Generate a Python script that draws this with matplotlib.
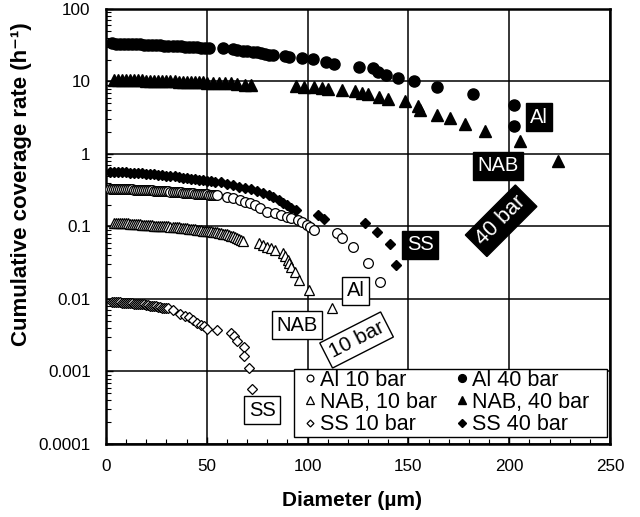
import matplotlib.pyplot as plt
from matplotlib.patches import Rectangle
from matplotlib.ticker import MultipleLocator, LogLocator, FixedLocator, FixedFormatter, NullFormatter

plt.rcParams['font.family'] = ['Liberation Sans', 'DejaVu Sans']

# Al, 10 bar (open circles)
al10_x = [2, 3, 4, 5, 6, 7, 8, 9, 10, 11, 12, 13, 14, 15, 16, 17, 18, 19, 20, 21, 22, 23, 24, 25, 26, 27,
          28, 29, 30, 31, 32, 33, 34, 35, 36, 37, 38, 39, 40, 41, 42, 43, 44, 45, 46, 47, 48, 49, 50, 51,
          52, 53, 54, 55,
          60, 63, 66.5, 69, 71.5, 74, 76.5, 80, 84, 87, 90, 92, 95, 97, 99.5, 101, 103,
          114.5, 117, 122.5, 130, 136]
al10_y = [0.332, 0.331, 0.331, 0.330, 0.330, 0.329, 0.328, 0.328, 0.327, 0.326, 0.325, 0.324, 0.323, 0.322,
          0.321, 0.320, 0.319, 0.318, 0.317, 0.316, 0.315, 0.314, 0.313, 0.312, 0.311, 0.310, 0.309, 0.307,
          0.306, 0.305, 0.303, 0.302, 0.300, 0.299, 0.297, 0.296, 0.294, 0.293, 0.291, 0.290, 0.288, 0.287,
          0.285, 0.284, 0.282, 0.281, 0.279, 0.278, 0.277, 0.276, 0.275, 0.274, 0.273, 0.272,
          0.258, 0.245, 0.232, 0.220, 0.209, 0.195, 0.178, 0.160, 0.152, 0.144, 0.137, 0.130, 0.122, 0.116,
          0.106, 0.099, 0.0895, 0.0805, 0.0687, 0.0526, 0.0317, 0.0173]

# Al, 40 bar (filled circles)
al40_x = [3, 5, 7, 9, 11, 13, 15, 17, 19, 21, 23, 25, 27, 29, 31, 33, 35, 37, 39, 41, 43, 45, 47, 49, 51,
          58, 63, 65, 68, 70, 73, 75, 77, 79, 81, 83, 89, 91, 97, 102.5, 109, 113, 125.5, 132.5, 135, 139,
          145, 153, 164, 182, 202.5, 202.5]
al40_y = [33.5, 33.4, 33.3, 33.2, 33.0, 32.9, 32.7, 32.5, 32.3, 32.1, 31.9, 31.7, 31.5, 31.3, 31.0, 30.8,
          30.6, 30.4, 30.2, 30.0, 29.8, 29.6, 29.4, 29.2, 29.0,
          28.7, 27.8, 27.2, 26.6, 26.3, 25.8, 25.3, 24.8, 24.3, 23.5, 23.0, 22.3, 21.5, 20.9, 20.2, 18.7,
          17.3, 16.0, 15.2, 13.6, 12.3, 11.1, 10.0, 8.3, 6.7, 4.7, 2.4]

# NAB, 10 bar (open triangles)
nab10_x = [4, 5, 6, 7, 8, 9, 10, 11, 12, 13, 14, 15, 16, 17, 18, 19, 20, 21, 22, 23, 24, 25, 26, 27, 28,
           29, 30, 31, 32, 33, 34, 35, 36, 37, 38, 39, 40, 41, 42, 43, 44, 45, 46, 47, 48, 49, 50,
           51, 52, 53, 54, 55, 56, 57, 58, 59, 60, 61, 62, 63, 64, 65, 66, 67, 68,
           76, 78, 80, 82, 84, 88, 89, 90.5, 91, 92, 94, 95.5, 100.5, 112]
nab10_y = [0.112, 0.112, 0.112, 0.111, 0.111, 0.111, 0.110, 0.110, 0.109, 0.109, 0.108, 0.108, 0.107,
           0.107, 0.106, 0.106, 0.105, 0.105, 0.104, 0.104, 0.103, 0.103, 0.102, 0.102, 0.101, 0.101,
           0.100, 0.100, 0.099, 0.099, 0.098, 0.097, 0.097, 0.096, 0.095, 0.095, 0.094, 0.093, 0.093,
           0.092, 0.091, 0.090, 0.090, 0.089, 0.088, 0.088, 0.087,
           0.086, 0.086, 0.085, 0.084, 0.083, 0.082, 0.081, 0.080, 0.079, 0.078, 0.077, 0.075, 0.073,
           0.071, 0.069, 0.067, 0.065, 0.063,
           0.0586, 0.056, 0.0526, 0.050, 0.0474, 0.0426, 0.039, 0.0345, 0.031, 0.0279, 0.0238, 0.0183,
           0.0133, 0.00745]

# NAB, 40 bar (filled triangles)
nab40_x = [4, 6, 8, 10, 12, 14, 16, 18, 20, 22, 24, 26, 28, 30, 32, 34, 36, 38, 40, 42, 44, 46, 48, 50,
           53, 56, 59, 62, 65, 69, 72, 94.5, 98, 103, 107, 110, 117, 123.5, 127, 130, 135.5, 140, 148.5,
           155, 156, 164, 170.5, 178, 188, 205.5, 224]
nab40_y = [10.6, 10.6, 10.55, 10.5, 10.5, 10.45, 10.4, 10.35, 10.3, 10.3, 10.25, 10.2, 10.15, 10.1, 10.05,
           10.0, 9.95, 9.9, 9.85, 9.8, 9.75, 9.7, 9.7, 9.65,
           9.6, 9.5, 9.5, 9.4, 9.3, 9.0, 9.0, 8.8, 8.5, 8.4, 8.05, 8.0, 7.6, 7.5, 7.0, 6.7, 6.05, 5.7, 5.3,
           4.6, 4.0, 3.45, 3.1, 2.6, 2.1, 1.52, 0.81]

# SS, 10 bar (open diamonds)
ss10_x = [3, 4, 5, 6, 7, 8, 9, 10, 11, 12, 13, 14, 15, 16, 17, 18, 19, 20, 21, 22, 23, 24, 25, 26, 27, 28,
          29, 30, 31,
          33, 36.5, 39, 41, 43, 45, 47, 48.5, 50, 55, 62, 63.5, 65, 68.5, 68.5, 71, 72.5]
ss10_y = [0.0091, 0.0091, 0.0090, 0.0090, 0.0090, 0.0089, 0.0089, 0.0088, 0.0088, 0.0087, 0.0087, 0.0086,
          0.0086, 0.0085, 0.0085, 0.0084, 0.0084, 0.0083, 0.0082, 0.0081, 0.0081, 0.0080, 0.0079, 0.0078,
          0.0077, 0.0076, 0.0075, 0.0075, 0.0074,
          0.0070, 0.0062, 0.0058, 0.0056, 0.0052, 0.0047, 0.0044, 0.0042, 0.0039, 0.00373, 0.0034, 0.0031,
          0.0026, 0.0022, 0.00164, 0.00111, 0.00057]

# SS, 40 bar (filled diamonds)
ss40_x = [2, 4, 6, 8, 10, 12, 14, 16, 18, 20, 22, 24, 26, 28, 30, 32, 34, 36, 38, 40, 42, 44, 46, 48, 50,
          52, 54, 57, 60, 63, 66, 69, 72, 75, 78, 81, 83, 86, 88, 90, 92, 94.5, 105, 108, 128.5, 134.5,
          141, 144]
ss40_y = [0.57, 0.568, 0.565, 0.562, 0.558, 0.554, 0.55, 0.545, 0.54, 0.535, 0.53, 0.524, 0.518, 0.512,
          0.505, 0.498, 0.49, 0.482, 0.474, 0.466, 0.458, 0.45, 0.442, 0.435, 0.428, 0.421, 0.415,
          0.41, 0.39, 0.375, 0.355, 0.34, 0.325, 0.31, 0.29, 0.27, 0.255, 0.23, 0.21, 0.195, 0.18, 0.168,
          0.144, 0.126, 0.111, 0.085, 0.057, 0.0294]

ytick_vals = [0.0001, 0.001, 0.01, 0.1, 1, 10, 100]
ytick_labels = ['0.0001', '0.001', '0.01', '0.1', '1', '10', '100']

fig = plt.figure(figsize=(6.4, 5.17), dpi=100)
ax = fig.add_axes([0.1656, 0.1412, 0.7875, 0.8414])

# open markers: 10 bar, filled markers: 40 bar
ax.plot(al10_x, al10_y, 'o', ms=7, mfc='white', mec='black', mew=0.9, label='Al 10 bar', zorder=3)
ax.plot(nab10_x, nab10_y, '^', ms=7.5, mfc='white', mec='black', mew=0.9, label='NAB, 10 bar', zorder=3)
ax.plot(ss10_x, ss10_y, 'D', ms=5, mfc='white', mec='black', mew=0.9, label='SS 10 bar', zorder=3)
ax.plot(al40_x, al40_y, 'o', ms=8, color='black', label='Al 40 bar', zorder=3)
ax.plot(nab40_x, nab40_y, '^', ms=8, color='black', label='NAB, 40 bar', zorder=3)
ax.plot(ss40_x, ss40_y, 'D', ms=5.5, color='black', label='SS 40 bar', zorder=3)

ax.set_yscale('log')
ax.set_xlim(0, 250)
ax.set_ylim(0.0001, 100)

ax.xaxis.set_major_locator(MultipleLocator(50))
ax.xaxis.set_minor_locator(MultipleLocator(10))
ax.yaxis.set_major_locator(FixedLocator(ytick_vals))
ax.yaxis.set_major_formatter(FixedFormatter(ytick_labels))
ax.yaxis.set_minor_locator(LogLocator(base=10, subs=range(2, 10)))
ax.yaxis.set_minor_formatter(NullFormatter())
ax.tick_params(which='both', direction='in', top=False, right=False, labelsize=12.3, color='black')
ax.tick_params(which='major', length=5, width=1, pad=11)
ax.tick_params(which='minor', length=3.5, width=0.8)

ax.grid(True, which='major', color='black', linewidth=1.1)
ax.set_axisbelow(True)
for sp in ax.spines.values():
    sp.set_linewidth(1.8)

fig.text(352 / 640, 1 - 500 / 517, 'Diameter (µm)', fontsize=15, fontweight='bold', ha='center', va='center')
fig.text(22 / 640, 1 - 184 / 517, 'Cumulative coverage rate (h⁻¹)', fontsize=16, fontweight='bold',
         ha='center', va='center', rotation=90)

# material labels
dark = dict(boxstyle='square,pad=0.22', facecolor='black', edgecolor='black')
light = dict(boxstyle='square,pad=0.22', facecolor='white', edgecolor='black', linewidth=1)
ax.text(214.8, 3.2, 'Al', color='white', fontsize=14.5, ha='center', va='center', bbox=dark, zorder=4)
ax.text(194.6, 0.69, 'NAB', color='white', fontsize=14.5, ha='center', va='center', bbox=dark, zorder=4)
ax.text(155.8, 0.0556, 'SS', color='white', fontsize=14.5, ha='center', va='center', bbox=dark, zorder=4)
ax.text(196, 0.12, '40 bar', color='white', fontsize=15.5, ha='center', va='center', rotation=45,
        bbox=dark, zorder=4)
ax.text(123.8, 0.0130, 'Al', color='black', fontsize=14.5, ha='center', va='center', bbox=light, zorder=4)
ax.text(94.6, 0.00437, 'NAB', color='black', fontsize=14.5, ha='center', va='center', bbox=light, zorder=4)
ax.text(77.5, 0.000294, 'SS', color='black', fontsize=14.5, ha='center', va='center', bbox=light, zorder=4)
ax.text(124.3, 0.00272, '10 bar', color='black', fontsize=15, ha='center', va='center', rotation=27,
        bbox=light, zorder=4)

# legend box drawn separately so its edges sit where wanted
ax.add_patch(Rectangle((0.3736, 0.0168), 0.62, 0.155, transform=ax.transAxes, facecolor='white',
                       edgecolor='black', linewidth=1, zorder=5))
leg = ax.legend(ncol=2, loc='center left', bbox_to_anchor=(0.377, 0.0954),
                fontsize=15.5, frameon=False, handlelength=1.3, handletextpad=-0.19, borderpad=0,
                labelspacing=0.05, columnspacing=0.51, markerscale=0.7, borderaxespad=0)
leg.set_zorder(6)

fig.savefig('out.png', dpi=100)
